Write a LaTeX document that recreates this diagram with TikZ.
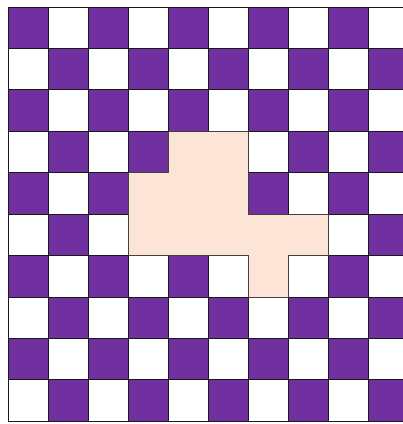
\documentclass[tikz,border=0pt]{standalone}
\definecolor{purp}{HTML}{7030A0}
\definecolor{peach}{HTML}{FCE4D6}
\begin{document}
\begin{tikzpicture}[x=1pt,y=-1pt,
  cell/.style={draw=black!90,line width=0.9pt},
  region/.style={draw=black!75,line width=0.9pt,fill=peach}]
\useasboundingbox (0,0) rectangle (403,424);
\clip (0,0) rectangle (403,424);
\fill[white] (0,0) rectangle (403,424);
\foreach \r in {0,...,9}{
  \foreach \c in {0,...,9}{
    \pgfmathsetmacro\x{8+40*\c}
    \pgfmathsetmacro\y{7+41.43*\r}
    \pgfmathtruncatemacro\p{mod(\r+\c,2)}
    \ifnum\p=0 \def\col{purp}\else\def\col{white}\fi
    \filldraw[cell,fill=\col] (\x,\y) rectangle ++(40,41.43);
  }
}
\filldraw[region] (168,131.29) -- (248,131.29) -- (248,214.15) -- (328,214.15)
  -- (328,255.58) -- (288,255.58) -- (288,297.01) -- (248,297.01)
  -- (248,255.58) -- (128,255.58) -- (128,172.72) -- (168,172.72) -- cycle;
\end{tikzpicture}
\end{document}
